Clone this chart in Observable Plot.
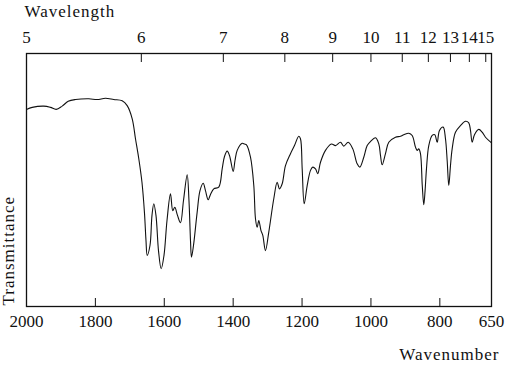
<!DOCTYPE html>
<html>
<head>
<meta charset="utf-8">
<script src="https://cdn.jsdelivr.net/npm/d3@7"></script>
<script src="https://cdn.jsdelivr.net/npm/@observablehq/plot@0.6"></script>
<style>
  html, body { margin: 0; padding: 0; background: #fff; }
  g[aria-label="text"] text { letter-spacing: 1px; }
</style>
</head>
<body>
<div id="chart"></div>
<script>
// Wavenumber (cm^-1) and relative transmittance (0-100)
const wavenumbers = [
  2000, 1983.5, 1949.8, 1930.3, 1913.8, 1896.4, 1878.9, 1857.7, 1819.1, 1794.8,
  1770.7, 1746.6, 1722.2, 1707.7, 1693.1, 1683.6, 1674, 1664.7, 1657.4, 1653.1,
  1649.6, 1641.5, 1635.7, 1630.4, 1624.1, 1616.8, 1609, 1600.8, 1592.1, 1582,
  1575.3, 1569.5, 1561.6, 1552.9, 1544.2, 1533.5, 1528.3, 1523.9, 1521, 1515.2,
  1504.5, 1496.3, 1487, 1480.4, 1472.5, 1465.8, 1456.3, 1441.8, 1431.9, 1425.2,
  1417.4, 1410.7, 1399.9, 1394.7, 1388.3, 1373.8, 1367.1, 1361.3, 1349.7, 1340.1,
  1335.2, 1330.3, 1325.6, 1319.2, 1314, 1306.2, 1296.6, 1282.1, 1272.2, 1265.5,
  1257.7, 1248.1, 1233.6, 1222, 1209.5, 1204.6, 1199.6, 1193.8, 1185.1, 1175.5,
  1168.9, 1161, 1154.4, 1146.5, 1132, 1114.6, 1103, 1088.4, 1078.9, 1066.1,
  1052.7, 1040, 1032.4, 1020.8, 1010.9, 1001.4, 986.8, 977.2, 972.3, 967.4,
  957.8, 948.2, 928.8, 914.2, 904.7, 890.2, 880.3, 870.7, 865.8, 861.1,
  856.2, 851, 846.6, 842.8, 838.8, 832.1, 822.2, 814.7, 807.7, 801,
  790.3, 783.6, 778.7, 774, 769.1, 764.2, 754.6, 740, 725.5, 716,
  711, 706.1, 699.4, 686.9, 677.1, 667.5, 650
];
const transmittance = [
  77.9, 78.7, 79.2, 78.7, 77.9, 79.2, 81.1, 81.8, 82.1, 81.8,
  82.3, 81.8, 81.3, 79.4, 74.2, 66.3, 58.4, 49, 36.8, 26.1,
  20.2, 24.1, 36, 40.6, 36, 22.1, 14.9, 20.2, 34, 44.5,
  37.9, 39.2, 36, 33.1, 41.9, 52.1, 41.9, 26.1, 19.5, 24.1,
  37.3, 45.8, 48.7, 45.8, 42.2, 44.3, 46.5, 47.2, 54.4, 59.3,
  61.4, 59.7, 53.4, 57.7, 61.7, 64.5, 64.2, 63.9, 59, 47.8,
  34.7, 31.3, 34, 30, 28.1, 22.1, 29.4, 42.6, 49.1, 46.5,
  48.5, 55.7, 60.4, 63.6, 67.3, 66.3, 54.4, 40.6, 47.8, 53.8,
  55.1, 54.4, 52.5, 57, 61.7, 64.2, 63.6, 64.9, 63.4, 64.9,
  62.3, 56.4, 55.1, 59, 63.6, 65.2, 66.7, 64.3, 59.7, 56,
  60.4, 64.9, 66.9, 67.3, 67.9, 68.5, 67.6, 63, 61.7, 62.3,
  60.4, 47.8, 40.2, 45.8, 54.4, 63.6, 67.6, 67.9, 64.9, 69.6,
  70.9, 66.3, 57.7, 47.8, 55.7, 62.3, 68.9, 71.5, 73.2, 72.6,
  69.6, 64.9, 67.9, 70, 68.9, 66.9, 64.7
];
const wavenumberTicks = [2000, 1800, 1600, 1400, 1200, 1000, 800, 650];
const wavelengthTicks = [5, 6, 7, 8, 9, 10, 11, 12, 13, 14, 15];

const spectrum = wavenumbers.map((w, i) => ({w, t: transmittance[i]}));
const xMin = 650, xMax = 2000;
const wlPositions = wavelengthTicks.map(l => 1e4 / l);
const inner = v => v > xMin + 1 && v < xMax - 1;

const ink = "#111";
const font = "Liberation Serif, Times New Roman, serif";

const chart = Plot.plot({
  width: 507,
  height: 366,
  marginTop: 53,
  marginBottom: 60,
  marginLeft: 26,
  marginRight: 16,
  style: {fontFamily: font, fontSize: "17px", color: ink, background: "#fff"},
  x: {domain: [xMax, xMin], axis: null},
  y: {domain: [0, 100], axis: null},
  marks: [
    Plot.frame({stroke: ink, strokeWidth: 1.3}),
    Plot.line(spectrum, {x: "w", y: "t", curve: "catmull-rom", stroke: ink, strokeWidth: 1.1}),
    // bottom axis: labels and inward ticks
    Plot.axisX(wavenumberTicks, {anchor: "bottom", tickSize: 0, tickPadding: 8, tickFormat: d => String(d), label: null, fontSize: 17, fill: ink}),
    Plot.axisX(wavenumberTicks.filter(inner), {anchor: "bottom", tickSize: -8, tickFormat: () => "", label: null, stroke: ink}),
    // top axis: wavelength (µm) labels and inward ticks
    Plot.axisX(wlPositions, {anchor: "top", tickSize: 0, tickPadding: 11, tickFormat: d => String(Math.round(1e4 / d)), label: null, fontSize: 17, fill: ink}),
    Plot.axisX(wlPositions.filter(inner), {anchor: "top", tickSize: -8, tickFormat: () => "", label: null, stroke: ink}),
    // titles
    Plot.text(["Wavelength"], {frameAnchor: "top-left", textAnchor: "start", lineAnchor: "bottom", dx: -2, dy: -37, fontSize: 17, fill: ink}),
    Plot.text(["Wavenumber"], {frameAnchor: "bottom-right", textAnchor: "end", lineAnchor: "bottom", dx: 8, dy: 53, fontSize: 17, fill: ink}),
    Plot.text(["Transmittance"], {frameAnchor: "bottom-left", textAnchor: "start", lineAnchor: "bottom", rotate: -90, dx: -13, dy: -1, fontSize: 17, fill: ink})
  ]
});
document.getElementById("chart").appendChild(chart);
</script>
</body>
</html>
